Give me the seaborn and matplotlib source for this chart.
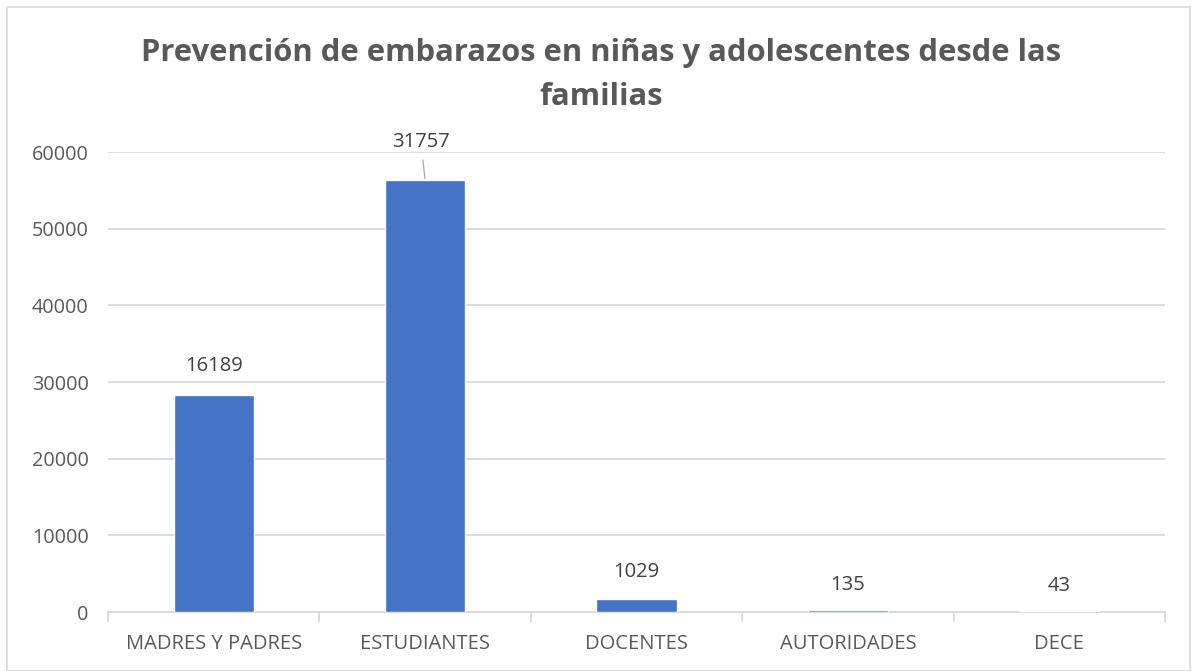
import matplotlib
matplotlib.use("Agg")
import matplotlib.pyplot as plt
import seaborn as sns
from matplotlib.patches import Rectangle

categories = ["MADRES Y PADRES", "ESTUDIANTES", "DOCENTES", "AUTORIDADES", "DECE"]
bar_values = [28300, 56350, 1750, 230, 75]
label_texts = ["16189", "31757", "1029", "135", "43"]
yticks = [0, 10000, 20000, 30000, 40000, 50000, 60000]
title = "Prevención de embarazos en niñas y adolescentes desde las\nfamilias"

sns.set_theme(style="white")
plt.rcParams["font.family"] = ["Open Sans", "DejaVu Sans"]

grey = "#595959"
light = "#d9d9d9"

fig = plt.figure(figsize=(11.92, 6.71), dpi=100)
ax = fig.add_axes([108/1192, 1-612/671, (1165-108)/1192, (612-152)/671])

sns.barplot(x=categories, y=bar_values, color="#4472C4", width=0.38,
            saturation=1, ax=ax, zorder=3)

ax.set_ylim(0, 60000)
ax.set_xlim(-0.5, len(categories) - 0.5)
ax.set_yticks(yticks)
ax.set_yticklabels([str(t) for t in yticks])
ax.yaxis.grid(True, color=light, linewidth=1.3, zorder=0)
ax.set_axisbelow(True)
for s in ["top", "right", "left"]:
    ax.spines[s].set_visible(False)
ax.spines["bottom"].set_color(light)
ax.spines["bottom"].set_linewidth(1.3)
ax.tick_params(axis="y", length=0, labelsize=14.3, labelcolor=grey, pad=14)
ax.tick_params(axis="x", length=0, labelsize=14.5, labelcolor=grey, pad=16)
ax.set_xlabel("")
ax.set_ylabel("")

# category boundary tick marks
ax.set_xticks(range(len(categories)), minor=False)
ax.set_xticks([i - 0.5 for i in range(len(categories) + 1)], minor=True)
ax.tick_params(axis="x", which="minor", bottom=True, length=7, color=light,
               width=1.3, direction="out")

offsets = [21, 27, 19, 18, 18]
for i, (v, t) in enumerate(zip(bar_values, label_texts)):
    if i == 1:
        ax.annotate(t, xy=(i, v), xytext=(-3, offsets[i]), textcoords="offset points",
                    ha="center", va="center", fontsize=14.5, color="#404040",
                    arrowprops=dict(arrowstyle="-", color="#a6a6a6", lw=0.9,
                                    shrinkA=3, shrinkB=1))
    else:
        ax.annotate(t, xy=(i, v), xytext=(0, offsets[i]), textcoords="offset points",
                    ha="center", va="center", fontsize=14.5, color="#404040")

fig.text(0.504, 1-75/671, title, ha="center", va="center", fontsize=22.3,
         fontweight="bold", color=grey, linespacing=1.62)

fig.patches.append(Rectangle((7/1192, 0), 1183/1192, 1-7/671, transform=fig.transFigure,
                             fill=False, edgecolor=light, linewidth=1.2))

fig.savefig("out.png", dpi=100)
